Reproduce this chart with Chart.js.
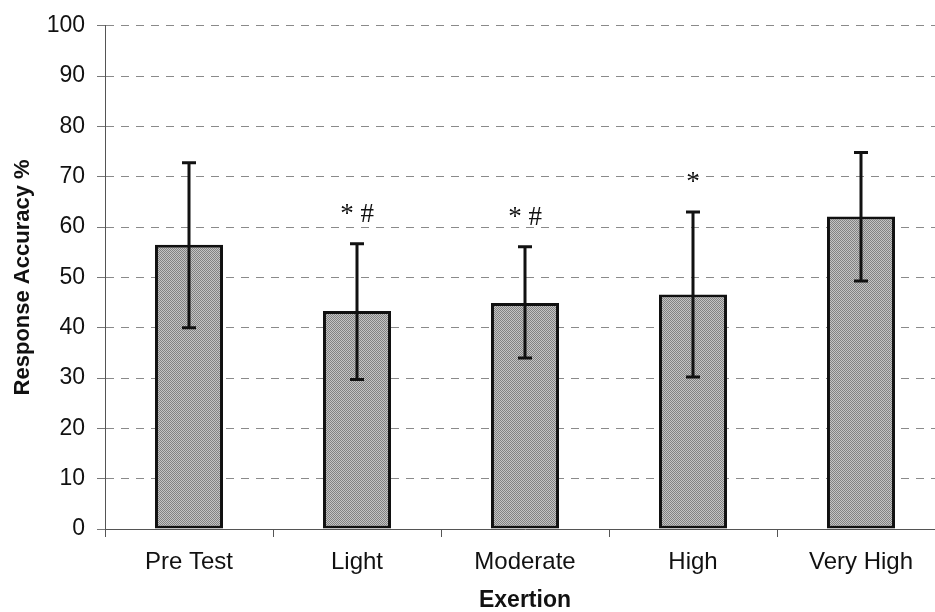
<!DOCTYPE html>
<html>
<head>
<meta charset="utf-8">
<script src="https://cdn.jsdelivr.net/npm/chart.js@4"></script>
<style>
  html, body { margin: 0; padding: 0; background: #fff; overflow: hidden; }
  #wrap { width: 945px; height: 612px; }
</style>
</head>
<body>
<div id="wrap"><canvas id="accuracyChart" width="945" height="612"></canvas></div>
<script>
// values
var categories = ['Pre Test', 'Light', 'Moderate', 'High', 'Very High'];
var accuracy = [56.5, 43.3, 44.9, 46.6, 62.1];
var errLow = [40.0, 29.7, 34.0, 30.2, 49.3];
var errHigh = [72.8, 56.7, 56.1, 63.0, 74.8];
var markers = ['', '* #', '* #', '*', ''];

// stippled grey fill like the scanned bars
function stipple() {
    var c = document.createElement('canvas');
    c.width = 2; c.height = 2;
    var g = c.getContext('2d');
    g.fillStyle = '#c4c4c4';
    g.fillRect(0, 0, 2, 2);
    g.fillStyle = '#828282';
    g.fillRect(0, 0, 1, 1);
    g.fillRect(1, 1, 1, 1);
    return g.createPattern(c, 'repeat');
}

var errorBars = {
    id: 'errorBars',
    afterDatasetsDraw: function (chart) {
        var ctx = chart.ctx;
        var meta = chart.getDatasetMeta(0);
        var y = chart.scales.y;
        ctx.save();
        ctx.strokeStyle = '#111';
        ctx.lineWidth = 3;
        meta.data.forEach(function (bar, i) {
            var top = y.getPixelForValue(errHigh[i]);
            var bot = y.getPixelForValue(errLow[i]);
            ctx.beginPath();
            ctx.moveTo(bar.x, top);
            ctx.lineTo(bar.x, bot);
            ctx.moveTo(bar.x - 7, top);
            ctx.lineTo(bar.x + 7, top);
            ctx.moveTo(bar.x - 7, bot);
            ctx.lineTo(bar.x + 7, bot);
            ctx.stroke();
            if (markers[i]) {
                ctx.fillStyle = '#111';
                ctx.font = '27px "Liberation Serif", "DejaVu Serif", serif';
                ctx.textAlign = 'center';
                ctx.textBaseline = 'alphabetic';
                ctx.fillText(markers[i], bar.x, top - 22);
            }
        });
        ctx.restore();
    }
};

var config = {
    type: 'bar',
    data: {
        labels: categories,
        datasets: [{
            data: accuracy,
            backgroundColor: stipple(),
            borderColor: '#111',
            borderWidth: 3,
            borderSkipped: false,
            categoryPercentage: 1,
            barPercentage: 0.405
        }]
    },
    options: {
        responsive: false,
        animation: false,
        layout: { padding: { top: 23, left: 0, right: 0, bottom: 0 } },
        plugins: {
            legend: { display: false },
            tooltip: { enabled: false }
        },
        scales: {
            x: {
                grid: {
                    offset: true,
                    drawOnChartArea: false,
                    tickLength: 8,
                    tickColor: '#555'
                },
                border: { color: '#555', width: 1 },
                ticks: {
                    color: '#111',
                    padding: 11,
                    font: { family: '"Liberation Sans", Arial, sans-serif', size: 24 }
                },
                title: {
                    display: true,
                    text: 'Exertion',
                    color: '#111',
                    padding: { top: 0, bottom: 0 },
                    font: { family: '"Liberation Sans", Arial, sans-serif', size: 23, weight: 'bold', lineHeight: 1 }
                },
                afterFit: function (scale) { scale.height = 83; }
            },
            y: {
                min: 0,
                max: 100,
                ticks: {
                    stepSize: 10,
                    color: '#111',
                    padding: 12,
                    font: { family: '"Liberation Sans", Arial, sans-serif', size: 23 }
                },
                grid: {
                    color: '#8a8a8a',
                    lineWidth: 1,
                    tickLength: 8,
                    tickColor: '#777',
                    tickBorderDash: []
                },
                border: { color: '#555', width: 1, dash: [8, 7] },
                title: {
                    display: true,
                    text: 'Response Accuracy %',
                    color: '#111',
                    padding: { top: 12, bottom: 0 },
                    font: { family: '"Liberation Sans", Arial, sans-serif', size: 22, weight: 'bold', lineHeight: 1 }
                },
                afterFit: function (scale) { scale.width = 105; }
            }
        }
    },
    plugins: [errorBars]
};

var accuracyChart = document.getElementById('accuracyChart').getContext('2d');
var chart = new Chart(accuracyChart, config);
</script>
</body>
</html>
